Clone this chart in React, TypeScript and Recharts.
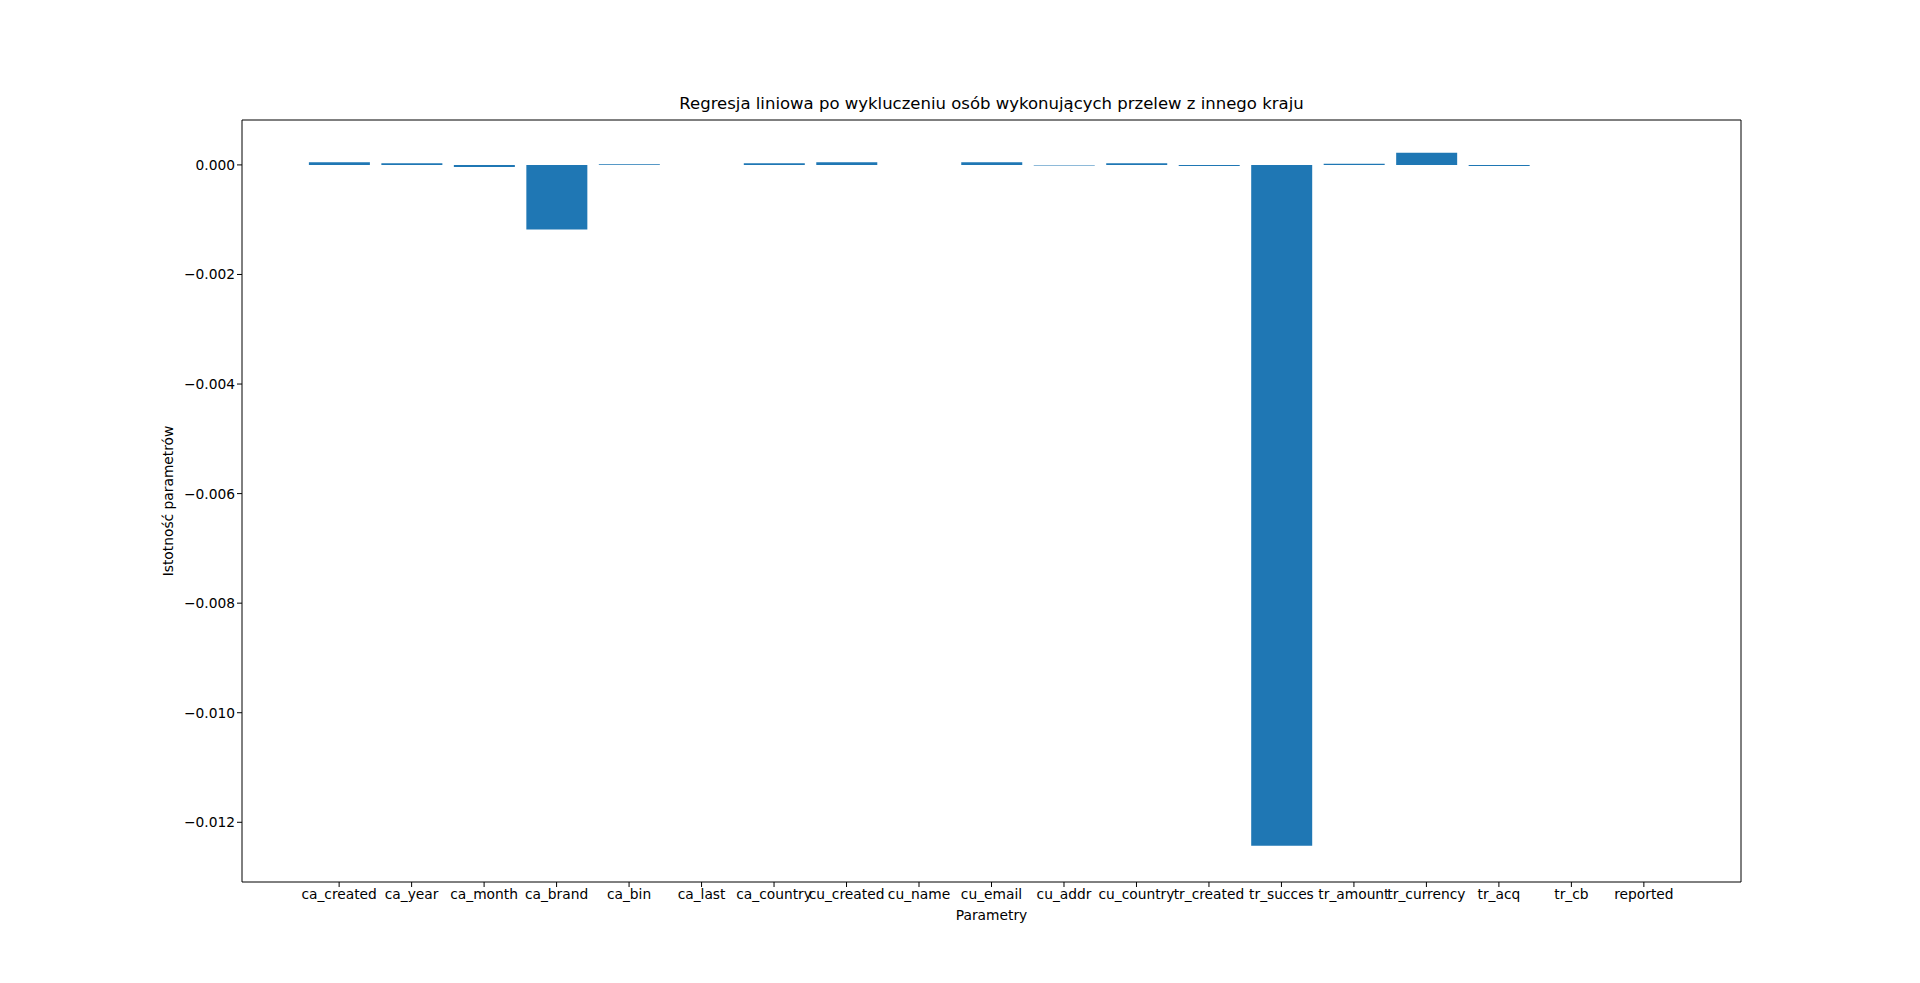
import React from 'react';
import { BarChart, Bar, XAxis, YAxis } from 'recharts';

const categories = [
  'ca_created', 'ca_year', 'ca_month', 'ca_brand', 'ca_bin', 'ca_last', 'ca_country', 'cu_created', 'cu_name',
  'cu_email', 'cu_addr', 'cu_country', 'tr_created', 'tr_succes', 'tr_amount', 'tr_currency', 'tr_acq', 'tr_cb', 'reported',
];
const importance = [
  0.00005, 0.00003, -0.00004, -0.00118, 0.00001, 0, 0.00003, 0.00005, 0,
  0.00005, -0.00001, 0.00003, -0.00002, -0.01243, 0.00002, 0.00022, -0.00002, 0, 0,
];
const yTicks = [0, -0.002, -0.004, -0.006, -0.008, -0.01, -0.012];
const xTicks = categories.map((_, i) => i);

const data = categories.map((name, i) => ({ x: i, name, value: importance[i] }));

const font = { fontFamily: 'DejaVu Sans', fontSize: 13.8, fill: '#000' };
const fmtY = (v: number) => (v < 0 ? '\u2212' : '') + Math.abs(v).toFixed(3);
const xDomain = [-1.34, 19.34];
const yDomain = [-0.01309, 0.00082];

export default function App() {
  return (
    <div style={{ position: 'absolute', left: 0, top: 0, width: 1920, height: 983, background: '#fff', fontFamily: 'DejaVu Sans' }}>
      <div style={{ position: 'absolute', top: 94, left: 242, width: 1499, textAlign: 'center', fontSize: 16.5 }}>
        Regresja liniowa po wykluczeniu osób wykonujących przelew z innego kraju
      </div>
      <div style={{ position: 'absolute', top: 907, left: 242, width: 1499, textAlign: 'center', fontSize: 13.8 }}>Parametry</div>
      <div style={{ position: 'absolute', left: 168, top: 501, fontSize: 13.8, transform: 'translate(-50%, -50%) rotate(-90deg)', whiteSpace: 'nowrap' }}>
        Istotność parametrów
      </div>
      <BarChart width={1920} height={983} data={data} margin={{ top: 119, right: 178, bottom: 0, left: 0 }}>
        <XAxis dataKey="x" type="number" domain={xDomain} ticks={xTicks} interval={0}
          tickFormatter={(v: number) => categories[v]} tick={font} stroke="#000" tickSize={5} height={101} />
        <XAxis xAxisId="top" orientation="top" dataKey="x" type="number" domain={xDomain} tick={false} stroke="#000" height={1} />
        <YAxis domain={yDomain} ticks={yTicks} tickFormatter={fmtY} tick={font} stroke="#000" tickSize={5} width={242} />
        <YAxis yAxisId="r" orientation="right" domain={yDomain} tick={false} stroke="#000" width={1} />
        <Bar dataKey="value" barSize={61} fill="#1f77b4" isAnimationActive={false} />
      </BarChart>
    </div>
  );
}
